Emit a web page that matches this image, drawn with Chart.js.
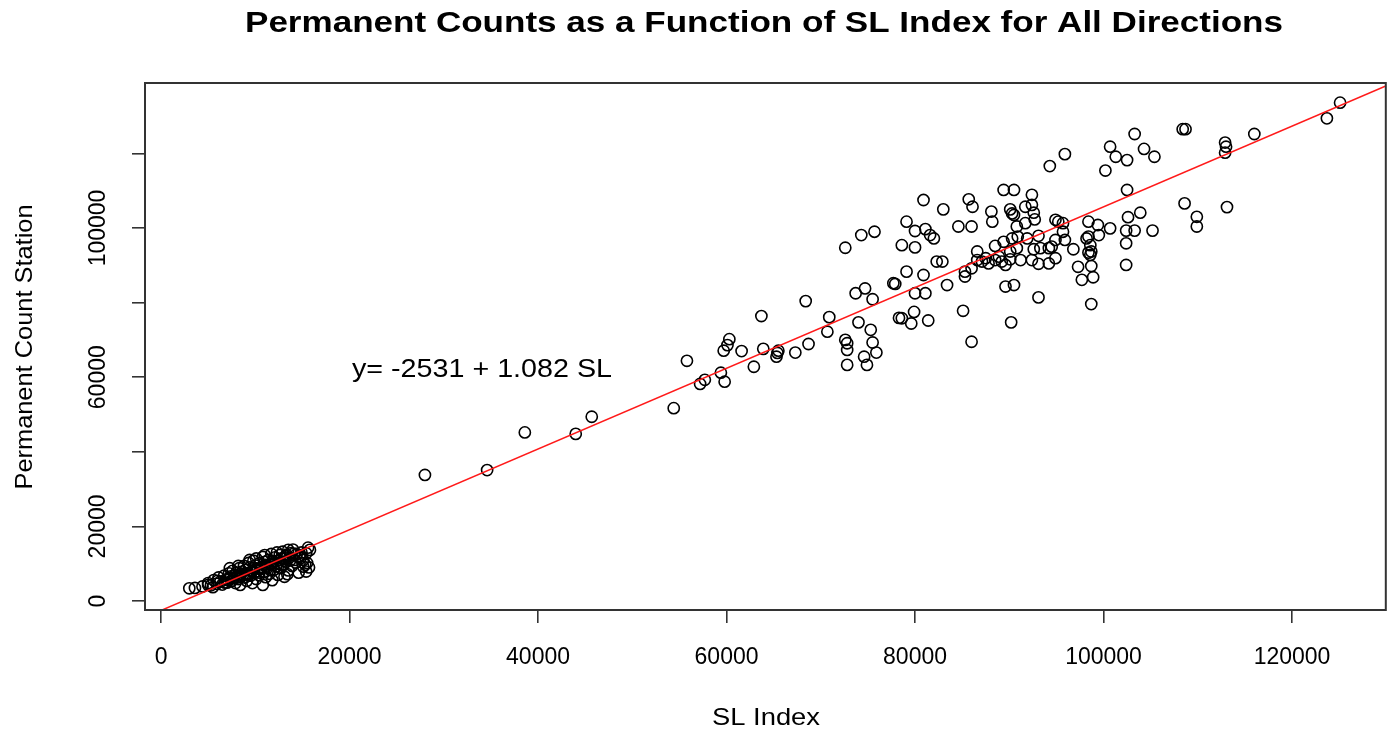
<!DOCTYPE html>
<html>
<head>
<meta charset="utf-8">
<script src="https://cdn.jsdelivr.net/npm/chart.js@4.4.1/dist/chart.umd.min.js"></script>
<style>
  html, body { margin: 0; padding: 0; background: #fff; }
  #wrap { width: 1393px; height: 734px; }
</style>
</head>
<body>
<div id="wrap"><canvas id="slChart" width="1393" height="734"></canvas></div>
<script>
// low volume stations (bottom left cluster)
const lowSL = [
  3000, 3600, 4400, 5000, 5000, 5300, 5600, 5900, 6100, 6300,
  6500, 6700, 6900, 7000, 7200, 7300, 7300, 7500, 7600, 7800,
  7900, 8000, 8200, 8300, 8400, 8400, 8600, 8800, 8900, 9000,
  9100, 9200, 9300, 9400, 9400, 9500, 9700, 9700, 9800, 9900,
  10000, 10100, 10100, 10300, 10400, 10500, 10700, 10800, 10800, 10900,
  11000, 11000, 11100, 11300, 11400, 11500, 11600, 11700, 11800, 11900,
  12000, 12100, 12200, 12300, 12400, 12500, 12600, 12700, 12800, 12900,
  13000, 13100, 13200, 13300, 13400, 13500, 13500, 13600, 13800, 13900,
  14000, 14200, 14400, 14600, 14800, 14900, 15100, 15100, 15300, 15400,
  15400, 15600, 15800, 15700, 15500, 6000, 7100, 8100, 8700, 9600,
  10600, 11200, 12400, 13000, 14100, 7700, 9000, 8200, 10200, 11800,
  6800, 7400, 8500, 9300, 9900, 10400, 11100, 11600, 12200, 12800,
  13300, 13700, 14300, 14700, 5500
];
const lowCount = [
  3400, 3500, 3900, 4300, 4800, 4200, 5600, 4600, 6300, 5200,
  4400, 6800, 5800, 4900, 7400, 8800, 6200, 5400, 8100, 6900,
  4800, 7600, 5900, 8800, 6600, 4300, 7900, 9400, 6300, 8400,
  5400, 7200, 10200, 11000, 9000, 6800, 4800, 8100, 10800, 7600,
  9500, 5900, 11400, 8700, 6900, 10200, 9100, 4300, 11800, 7800,
  10500, 12300, 6400, 8900, 11000, 7300, 9800, 12600, 5600, 10600,
  8400, 11700, 9300, 13000, 7000, 10900, 12300, 8800, 11400, 13200,
  9800, 6500, 12000, 10500, 7200, 13700, 8200, 11600, 12800, 9400,
  13800, 11000, 12600, 7600, 11500, 13000, 9200, 11000, 9700, 7900,
  12800, 14300, 13700, 9000, 10200, 5400, 5600, 6300, 7000, 7900,
  8600, 9200, 10100, 11300, 12700, 6100, 7200, 9400, 8000, 10000,
  4900, 6600, 7300, 6900, 8900, 7600, 9700, 8300, 10700, 9600,
  12400, 10900, 10300, 12000, 3700
];

// high volume stations
const highSL = [
  28000, 34600, 38600, 44000, 45700, 54400, 55800, 57200, 57700, 59400,
  59800, 59700, 60100, 60300, 61600, 62900, 63700, 63900, 65300, 65500,
  65400, 67300, 68400, 68700, 70700, 70900, 72600, 72600, 72800, 72800,
  72800, 73700, 74700, 74000, 74300, 74600, 74900, 75300, 75500, 75500,
  75700, 75900, 77700, 77900, 78300, 78600, 78600, 79100, 79100, 79600,
  79900, 80000, 80000, 80000, 80900, 80900, 81100, 81100, 81400, 81600,
  82000, 82300, 82900, 83000, 83400, 84600, 85100, 85300, 85300, 85700,
  86000, 86000, 86100, 86000, 86600, 86600, 87100, 87500, 87800, 88100,
  88200, 88500, 88500, 88900, 89200, 89400, 89400, 89600, 89600, 90100,
  90100, 90100, 90200, 90300, 90300, 90500, 90500, 90500, 90800, 90800,
  90900, 91200, 91700, 91700, 91900, 92400, 92400, 92400, 92600, 92600,
  92700, 93100, 93100, 93100, 93300, 94200, 94200, 94300, 94500, 94900,
  94900, 94900, 95200, 95700, 95700, 95900, 95900, 96800, 97300, 97700,
  98200, 98400, 98400, 98600, 98600, 98700, 98700, 98700, 98900, 99400,
  99500, 100200, 100700, 100700, 101300, 102400, 102400, 102400, 102500, 102500,
  102600, 103300, 103300, 103900, 104300, 105200, 105400, 108400, 108700, 108600,
  109900, 109900, 112900, 113000, 112900, 113100, 116000, 123700, 125100, 98400
];
const highCount = [
  33800, 35100, 45200, 44800, 49400, 51700, 64400, 58200, 59300, 61200,
  58800, 67100, 68600, 70200, 67000, 62800, 76400, 67600, 65500, 67100,
  66500, 66600, 80400, 68900, 72200, 76100, 94700, 70000, 69100, 67300,
  63300, 82500, 83800, 74700, 98100, 65500, 63300, 72700, 80900, 69300,
  99000, 66600, 85200, 85000, 75900, 95400, 75800, 101700, 88300, 74400,
  77500, 94800, 99200, 82500, 107500, 87400, 99700, 82500, 75200, 98100,
  97200, 91000, 91000, 105000, 84700, 100400, 77800, 88300, 87000, 107700,
  100400, 89200, 105700, 69500, 93700, 91400, 91000, 91900, 90500, 104400,
  101700, 95200, 91400, 92300, 91000, 110200, 96300, 90100, 84300, 105000,
  93700, 91600, 74700, 97200, 103900, 110200, 103500, 84700, 100400, 94600,
  97700, 91400, 105700, 101300, 97200, 106200, 108900, 91400, 104100, 94300,
  102300, 97900, 90400, 81400, 94600, 94600, 90500, 116600, 95000, 102200,
  96800, 91900, 101700, 101300, 99000, 119800, 96800, 94300, 89600, 86100,
  97200, 101700, 97700, 95400, 92800, 93700, 89800, 79600, 86800, 100800,
  98100, 115400, 121800, 99900, 119100, 99300, 95900, 90100, 118200, 110200,
  102900, 125200, 99300, 104100, 121200, 99300, 119100, 126500, 126500, 106600,
  103000, 100400, 122900, 121800, 120200, 105600, 125200, 129400, 133600, 93400
];

const xTicks = [0, 20000, 40000, 60000, 80000, 100000, 120000];
const yTicks = [0, 20000, 40000, 60000, 80000, 100000, 120000];
const yTickLabels = ['0', '20000', '', '60000', '', '100000', ''];
const xRange = [-1700, 129950];
const yRange = [-2413, 138874];

// fitted line  y = -2531 + 1.082 SL
const fitIntercept = -2531;
const fitSlope = 1.082;

const FONT = "'Liberation Sans', Arial, Helvetica, sans-serif";

const points = [];
lowSL.forEach((x, i) => points.push({ x: x, y: lowCount[i] }));
highSL.forEach((x, i) => points.push({ x: x, y: highCount[i] }));
const fitLine = xRange.map(x => ({ x: x, y: fitIntercept + fitSlope * x }));

function putText(ctx, txt, x, y, o) {
  ctx.save();
  ctx.font = o.font;
  ctx.fillStyle = '#000';
  ctx.textAlign = o.align || 'center';
  ctx.textBaseline = o.baseline || 'middle';
  ctx.translate(x, y);
  if (o.rotate) ctx.rotate(o.rotate);
  if (o.width) {
    const w = ctx.measureText(txt).width;
    ctx.scale(o.width / w, 1);
  }
  ctx.fillText(txt, 0, 0);
  ctx.restore();
}

const rLook = {
  id: 'rLook',
  beforeDraw(chart) {
    const c = chart.ctx;
    c.save();
    c.fillStyle = '#fff';
    c.fillRect(0, 0, chart.width, chart.height);
    c.restore();
  },
  afterDraw(chart) {
    const c = chart.ctx;
    const a = chart.chartArea;
    const xs = chart.scales.x, ys = chart.scales.y;

    // box round the plot
    c.save();
    c.strokeStyle = '#333';
    c.lineWidth = 2;
    c.strokeRect(a.left, a.top, a.right - a.left, a.bottom - a.top);
    c.restore();

    xTicks.forEach(v => {
      putText(c, String(v), xs.getPixelForValue(v), 658, { font: '23px ' + FONT });
    });
    yTicks.forEach((v, i) => {
      if (!yTickLabels[i]) return;
      putText(c, yTickLabels[i], 99, ys.getPixelForValue(v), { font: '23px ' + FONT, rotate: -Math.PI / 2 });
    });

    putText(c, 'Permanent Counts as a Function of SL Index for All Directions', 764, 32,
      { font: 'bold 29px ' + FONT, baseline: 'alphabetic', width: 1038 });
    putText(c, 'SL Index', 766, 718, { font: '24px ' + FONT, width: 108 });
    putText(c, 'Permanent Count Station', 25, 347,
      { font: '24px ' + FONT, rotate: -Math.PI / 2, width: 285 });
    putText(c, 'y= -2531 + 1.082 SL', 352, 377,
      { font: '25px ' + FONT, align: 'left', baseline: 'alphabetic', width: 260 });
  }
};

const ctx = document.getElementById('slChart').getContext('2d');
new Chart(ctx, {
  type: 'scatter',
  data: {
    datasets: [
      {
        data: points,
        pointStyle: 'circle',
        pointRadius: 5.6,
        borderWidth: 1.6,
        borderColor: '#000',
        backgroundColor: 'rgba(0,0,0,0)',
        order: 1
      },
      {
        type: 'line',
        data: fitLine,
        borderColor: '#ff1a1a',
        borderWidth: 1.5,
        pointRadius: 0,
        fill: false,
        order: 0
      }
    ]
  },
  options: {
    responsive: false,
    animation: false,
    devicePixelRatio: 1,
    layout: { padding: { top: 83, right: 5, left: 0, bottom: 0 } },
    plugins: { legend: { display: false }, tooltip: { enabled: false } },
    scales: {
      x: {
        type: 'linear',
        min: xRange[0],
        max: xRange[1],
        afterBuildTicks: s => { s.ticks = xTicks.map(v => ({ value: v })); },
        afterFit: s => { s.height = 124; },
        ticks: { display: false },
        border: { display: false },
        grid: { drawOnChartArea: false, drawTicks: true, tickLength: 13, color: '#333', lineWidth: 1.6 }
      },
      y: {
        type: 'linear',
        min: yRange[0],
        max: yRange[1],
        afterBuildTicks: s => { s.ticks = yTicks.map(v => ({ value: v })); },
        afterFit: s => { s.width = 145; },
        ticks: { display: false },
        border: { display: false },
        grid: { drawOnChartArea: false, drawTicks: true, tickLength: 13, color: '#333', lineWidth: 1.6 }
      }
    }
  },
  plugins: [rLook]
});
</script>
</body>
</html>
